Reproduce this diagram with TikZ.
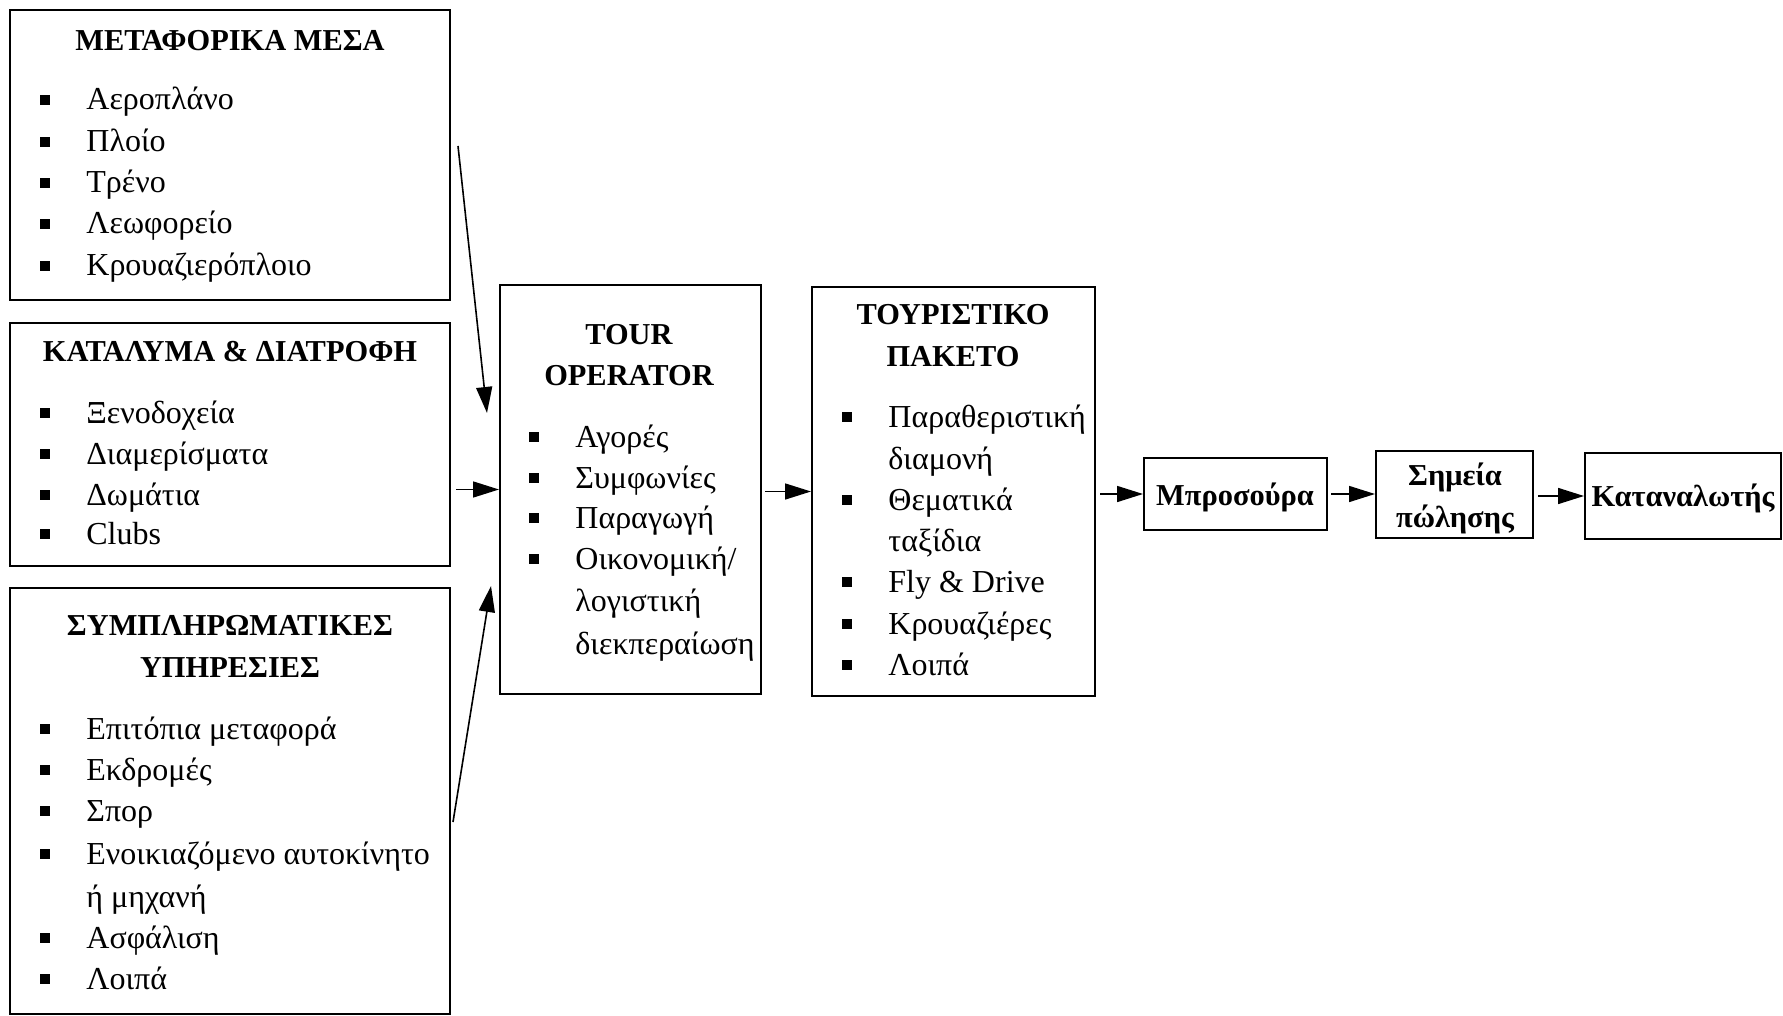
\documentclass[tikz,border=0pt]{standalone}
\usepackage{fontspec}
\setmainfont{Liberation Serif}
\usetikzlibrary{arrows.meta,fit}

\tikzset{
  box/.style={draw, line width=1pt, inner sep=0pt},
  itemtext/.style={anchor=base west, inner sep=0pt, font=\fontsize{16}{19}\selectfont},
  head/.style={anchor=base, inner sep=0pt, font=\fontsize{15.2}{18}\selectfont\bfseries},
  link/.style={line width=0.8pt, -{Triangle[length=13pt,width=8pt]}},
}

% bullet square plus its text: name, bullet x, line centre y, text
\newcommand{\bitem}[4]{%
  \fill (#2-5,#3-5) rectangle (#2+5,#3+5);
  \node[itemtext] (#1) at (#2+41,#3+10) {#4};}
% continuation line without bullet
\newcommand{\citem}[4]{%
  \node[itemtext] (#1) at (#2+41,#3+10) {#4};}

\begin{document}
\begin{tikzpicture}[x=0.5pt,y=-0.5pt]
\useasboundingbox (0,0) rectangle (1783,1016);
\fill[white] (0,0) rectangle (1783,1016);

% ---- transport ----
\node[box, fit={(10,10)(450,300)}] (transport) {};
\node[head] (transportT) at (230,51) {ΜΕΤΑΦΟΡΙΚΑ ΜΕΣΑ};
\bitem{tr1}{45}{100}{Αεροπλάνο}
\bitem{tr2}{45}{142}{Πλοίο}
\bitem{tr3}{45}{183}{Τρένο}
\bitem{tr4}{45}{224}{Λεωφορείο}
\bitem{tr5}{45}{266}{Κρουαζιερόπλοιο}

% ---- lodging ----
\node[box, fit={(10,323)(450,566)}] (lodging) {};
\node[head] (lodgingT) at (230,361) {ΚΑΤΑΛΥΜΑ \& ΔΙΑΤΡΟΦΗ};
\bitem{lo1}{45}{413}{Ξενοδοχεία}
\bitem{lo2}{45}{454}{Διαμερίσματα}
\bitem{lo3}{45}{495}{Δωμάτια}
\bitem{lo4}{45}{534}{Clubs}

% ---- extra services ----
\node[box, fit={(10,588)(450,1014)}] (extra) {};
\node[head] (extraT1) at (230,635) {ΣΥΜΠΛΗΡΩΜΑΤΙΚΕΣ};
\node[head] (extraT2) at (230,677) {ΥΠΗΡΕΣΙΕΣ};
\bitem{ex1}{45}{729}{Επιτόπια μεταφορά}
\bitem{ex2}{45}{770}{Εκδρομές}
\bitem{ex3}{45}{811}{Σπορ}
\bitem{ex4}{45}{854}{Ενοικιαζόμενο αυτοκίνητο}
\citem{ex4b}{45}{897}{ή μηχανή}
\bitem{ex5}{45}{938}{Ασφάλιση}
\bitem{ex6}{45}{979}{Λοιπά}

% ---- tour operator ----
\node[box, fit={(500,285)(761,694)}] (tour) {};
\node[head] (tourT1) at (629,344) {TOUR};
\node[head] (tourT2) at (629,385) {OPERATOR};
\bitem{to1}{534}{437}{Αγορές}
\bitem{to2}{534}{478}{Συμφωνίες}
\bitem{to3}{534}{518}{Παραγωγή}
\bitem{to4}{534}{559}{Οικονομική/}
\citem{to4b}{534}{601}{λογιστική}
\citem{to4c}{534}{644}{διεκπεραίωση}

% ---- package ----
\node[box, fit={(812,287)(1095,696)}] (pkg) {};
\node[head] (pkgT1) at (953,325) {ΤΟΥΡΙΣΤΙΚΟ};
\node[head] (pkgT2) at (953,366) {ΠΑΚΕΤΟ};
\bitem{pk1}{847}{417}{Παραθεριστική}
\citem{pk1b}{847}{459}{διαμονή}
\bitem{pk2}{847}{500}{Θεματικά}
\citem{pk2b}{847}{541}{ταξίδια}
\bitem{pk3}{847}{582}{Fly \& Drive}
\bitem{pk4}{847}{624}{Κρουαζιέρες}
\bitem{pk5}{847}{665}{Λοιπά}

% ---- distribution chain ----
\node[box, fit={(1144,458)(1327,530)}] (broch) {};
\node[head] (brochT) at (1235,505) {Μπροσούρα};
\node[box, fit={(1376,451)(1533,538)}] (sales) {};
\node[head] (salesT1) at (1455,485) {Σημεία};
\node[head] (salesT2) at (1455,527) {πώλησης};
\node[box, fit={(1585,453)(1781,539)}] (cons) {};
\node[head] (consT) at (1683,506) {Καταναλωτής};

% ---- connectors ----
\coordinate (a1s) at (458,146);
\coordinate (a1e) at (487,413);
\coordinate (a3s) at (453,822);
\coordinate (a3e) at (491,586);
\draw[link] (a1s) -- (a1e);
\draw[link] (a3s) -- (a3e);
\draw[link, shorten <=2.5pt] (lodging.east |- tour.west) -- (tour.west);
\draw[link, shorten <=1.5pt] (tour.east |- pkg.west) -- (pkg.west);
\draw[link, shorten <=2pt] (pkg.east |- broch.west) -- (broch.west);
\draw[link, shorten <=1.5pt] (broch.east) -- (sales.west |- broch.east);
\draw[link, shorten <=2pt] (sales.east |- cons.west) -- (cons.west);
\end{tikzpicture}
\end{document}
